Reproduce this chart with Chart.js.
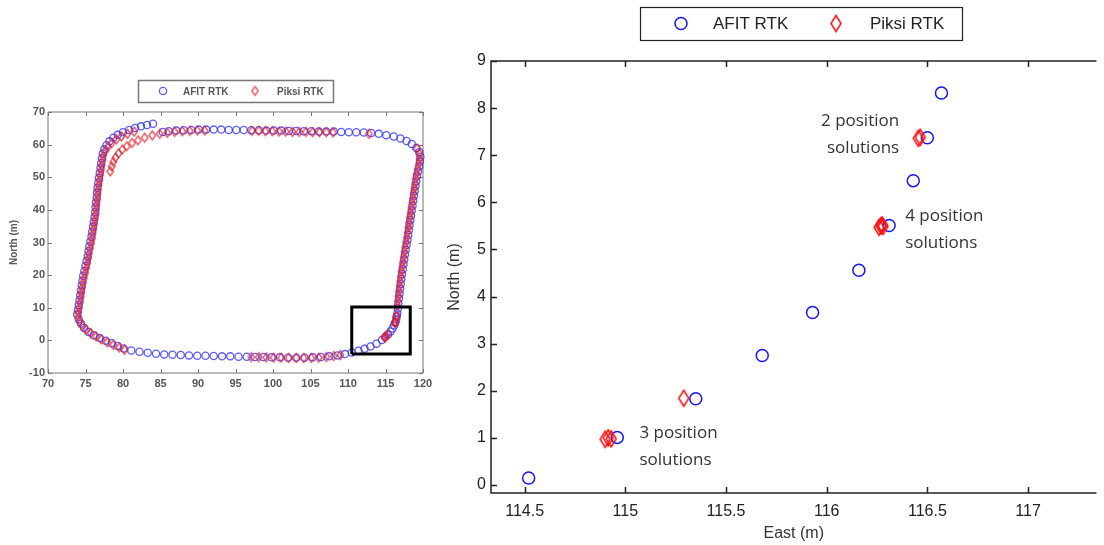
<!DOCTYPE html>
<html>
<head>
<meta charset="utf-8">
<script src="https://cdn.jsdelivr.net/npm/chart.js@4.4.1/dist/chart.umd.min.js"></script>
<style>
  html, body { margin: 0; padding: 0; background: #fff; overflow: hidden; }
  body { width: 1104px; height: 545px; position: relative; }
  #overview { position: absolute; left: 0; top: 70px; }
  #closeup { position: absolute; left: 440px; top: 0; }
</style>
</head>
<body>
<canvas id="overview" width="440" height="330" style="width:440px;height:330px"></canvas>
<canvas id="closeup" width="664" height="545" style="width:664px;height:545px"></canvas>
<script>
// ---- datos: vista general del recorrido (East, North en metros) ----
const afitTrack = [
  [84.0,66.4],[83.2,66.0],[82.4,65.6],[81.6,65.1],[80.8,64.5],[80.0,63.8],[79.3,63.0],[78.7,62.1],[78.2,61.0],[77.8,59.8],[77.5,58.6],
  [77.3,57.3],[77.2,55.8],[77.1,54.3],[77.0,52.8],[76.9,51.3],[76.8,49.8],[76.7,48.3],[76.6,46.8],[76.55,45.3],[76.5,43.8],[76.4,42.3],[76.35,40.8],[76.3,39.3],[76.2,37.8],[76.1,36.3],[76.0,34.8],[75.9,33.3],[75.8,31.8],[75.65,30.3],[75.5,28.8],[75.4,27.3],[75.3,25.8],[75.15,24.3],[75.0,22.8],[74.85,21.3],[74.7,19.8],[74.6,18.3],[74.5,16.8],[74.4,15.3],[74.3,13.8],[74.2,12.3],[74.1,10.8],[74.0,9.3],[73.9,7.9],
  [74.1,6.5],[74.4,5.1],[74.8,3.8],[75.4,2.6],[76.1,1.6],[76.9,0.7],[77.7,-0.1],[78.5,-0.9],[79.3,-1.7],[80.1,-2.5],[81.1,-3.1],
  [82.2,-3.5],[83.3,-3.8],[84.4,-4.1],[85.5,-4.3],[86.6,-4.4],[87.7,-4.5],[88.8,-4.6],[89.9,-4.7],[91.0,-4.7],[92.1,-4.8],[93.2,-4.9],[94.3,-4.9],[95.4,-5.0],[96.5,-5.0],[97.6,-5.1],[98.7,-5.1],[99.8,-5.2],[100.9,-5.2],[102.0,-5.3],[103.1,-5.3],[104.2,-5.3],[105.3,-5.2],[106.4,-5.1],[107.5,-4.9],[108.6,-4.6],[109.6,-4.2],[110.5,-3.7],[111.4,-3.2],[112.2,-2.6],[113.0,-1.9],[113.8,-1.0],
  [114.52,0.15],[114.96,1.01],[115.35,1.83],[115.68,2.75],[115.93,3.66],[116.16,4.56],[116.31,5.51],[116.43,6.46],[116.5,7.37],[116.57,8.32],
  [116.65,9.8],[116.72,11.3],[116.8,12.8],[116.87,14.3],[116.95,15.8],[117.03,17.3],[117.11,18.8],[117.2,20.3],[117.3,21.8],[117.4,23.3],[117.5,24.8],[117.6,26.3],[117.7,27.8],[117.82,29.3],[117.93,30.8],[118.03,32.3],[118.12,33.8],[118.2,35.3],[118.3,36.8],[118.4,38.3],[118.5,39.8],[118.6,41.3],[118.7,42.8],[118.8,44.3],[118.9,45.8],[119.0,47.3],[119.1,48.8],[119.2,50.3],[119.35,51.8],[119.5,53.3],[119.6,54.8],[119.65,56.3],[119.5,57.7],
  [119.1,59.0],[118.5,60.2],[117.8,61.1],[117.0,61.9],[116.1,62.5],[115.1,62.9],[114.1,63.3],
  [113.1,63.6],[112.1,63.7],[111.1,63.8],[110.1,63.8],[109.1,63.9],[108.1,64.0],[107.1,64.0],[106.1,64.0],[105.1,64.1],[104.1,64.1],[103.1,64.2],[102.1,64.2],[101.1,64.3],[100.1,64.3],[99.1,64.3],[98.1,64.4],[97.1,64.4],[96.1,64.5],[95.1,64.5],[94.1,64.5],[93.1,64.6],[92.1,64.6],[91.1,64.6],[90.1,64.6],[89.1,64.5],[88.1,64.4],[87.1,64.3],[86.1,64.1],[85.3,63.9]
];
const piksiTrack = [
  [78.3,51.8],[78.5,53.3],[78.7,54.7],[79.0,56.0],[79.4,57.3],[79.9,58.5],[80.5,59.5],[81.2,60.5],[82.0,61.3],[82.9,62.1],[83.9,62.8],[84.9,63.3],[85.9,63.6],[86.9,63.9],[87.9,64.1],[88.9,64.2],[89.9,64.3],[90.9,64.3],
  [97.2,64.2],[98.1,64.2],[99.0,64.1],[99.9,64.1],[100.8,64.0],[101.7,64.0],[102.6,63.9],[103.5,63.9],[104.4,63.9],[105.3,63.8],[106.2,63.8],[107.1,63.8],[108.0,63.7],
  [112.8,63.3],
  [119.2,58.8],[119.55,57.2],
  [119.55,55.6],[119.45,54.1],[119.3,52.6],[119.15,51.1],[119.05,49.6],[118.95,48.1],[118.85,46.6],[118.75,45.1],[118.65,43.6],[118.55,42.1],[118.45,40.6],[118.35,39.1],[118.25,37.6],[118.15,36.1],[118.05,34.6],[117.95,33.1],[117.85,31.6],[117.75,30.1],[117.62,28.6],[117.52,27.1],[117.42,25.6],[117.32,24.1],[117.22,22.6],[117.12,21.1],[117.03,19.6],[116.95,18.1],[116.88,16.6],[116.8,15.1],[116.72,13.6],[116.65,12.1],[116.58,10.6],
  [116.455,7.36],[116.465,7.38],[116.26,5.47],[116.27,5.5],[116.275,5.52],[116.28,5.49],[115.29,1.84],[114.9,0.97],[114.915,1.0],[114.93,0.98],
  [109.0,-4.5],[108.1,-4.8],[107.1,-5.1],[106.1,-5.3],[105.1,-5.4],[104.1,-5.4],[103.1,-5.4],[102.1,-5.4],[101.1,-5.3],[100.1,-5.3],[99.1,-5.2],[98.1,-5.1],[97.1,-5.1],
  [80.2,-2.9],[79.5,-2.2],[78.7,-1.4],[77.9,-0.6],[77.1,0.3],[76.4,1.2],[75.7,2.2],[75.1,3.3],[74.6,4.5],[74.2,5.8],[74.0,7.2],
  [74.05,8.6],[74.15,10.1],[74.25,11.6],[74.35,13.1],[74.45,14.6],[74.55,16.1],[74.65,17.6],[74.8,19.1],[74.95,20.6],[75.1,22.1],[75.25,23.6],[75.35,25.1],[75.45,26.6],[75.6,28.1],[75.75,29.6],[75.85,31.1],[75.95,32.6],[76.05,34.1],[76.15,35.6],[76.25,37.1],[76.35,38.6],[76.4,40.1],[76.45,41.6],[76.55,43.1],[76.6,44.6],[76.65,46.1],[76.75,47.6],[76.85,49.1],[76.95,50.6],[77.05,52.1],[77.15,53.6],[77.25,55.1],[77.35,56.6],
  [77.6,58.0],[78.0,59.3],[78.5,60.5],[79.1,61.6],[79.8,62.5],[80.6,63.3],[81.5,64.0]
];
// recuadro de la zona ampliada
const zoomBox = [[110.5,-4.2],[118.3,-4.2],[118.3,10.2],[110.5,10.2],[110.5,-4.2]];
const overviewEastTicks = [70,75,80,85,90,95,100,105,110,115,120];
const overviewNorthTicks = [-10,0,10,20,30,40,50,60,70];

// ---- datos: vista ampliada ----
const zoomAfitEast  = [114.52,114.96,115.35,115.68,115.93,116.16,116.31,116.43,116.50,116.57];
const zoomAfitNorth = [0.15,1.01,1.83,2.75,3.66,4.56,5.51,6.46,7.37,8.32];
const zoomPiksiEast  = [114.90,114.915,114.93,115.29,116.26,116.27,116.275,116.28,116.455,116.465];
const zoomPiksiNorth = [0.97,1.00,0.98,1.84,5.47,5.50,5.52,5.49,7.36,7.38];
const zoomEastTicks = [114.5,115,115.5,116,116.5,117];
const zoomEastLabels = ['114.5','115','115.5','116','116.5','117'];
const zoomNorthTicks = [0,1,2,3,4,5,6,7,8,9];
const notes = [
  { lines: ['2 position','solutions'], x: 116.36, y: 7.73, align: 'right' },
  { lines: ['4 position','solutions'], x: 116.39, y: 5.71, align: 'left' },
  { lines: ['3 position','solutions'], x: 115.07, y: 1.10, align: 'left' }
];

// rombo alto estilo MATLAB
function diamond(w, h, color, lw) {
    const c = document.createElement('canvas');
    c.width = Math.ceil(w + lw * 2) + 1;
    c.height = Math.ceil(h + lw * 2) + 1;
    const g = c.getContext('2d');
    const cx = c.width / 2, cy = c.height / 2;
    g.strokeStyle = color;
    g.lineWidth = lw;
    g.beginPath();
    g.moveTo(cx, cy - h / 2);
    g.lineTo(cx + w / 2, cy);
    g.lineTo(cx, cy + h / 2);
    g.lineTo(cx - w / 2, cy);
    g.closePath();
    g.stroke();
    return c;
}

function drawMarker(ctx, ds, x, y) {
    if (ds.pointStyle instanceof HTMLCanvasElement) {
        ctx.drawImage(ds.pointStyle, x - ds.pointStyle.width / 2, y - ds.pointStyle.height / 2);
    } else {
        ctx.save();
        ctx.strokeStyle = ds.borderColor;
        ctx.lineWidth = ds.pointBorderWidth;
        ctx.beginPath();
        ctx.arc(x, y, ds.pointRadius, 0, Math.PI * 2);
        ctx.stroke();
        ctx.restore();
    }
}

// marco con marcas hacia dentro
const framePlugin = {
    id: 'frame',
    beforeDatasetsDraw(chart, args, o) {
        const { ctx, chartArea: a, scales } = chart;
        ctx.save();
        ctx.strokeStyle = o.color;
        ctx.lineWidth = o.width;
        ctx.beginPath();
        ctx.moveTo(a.right, a.top);
        ctx.lineTo(a.left, a.top);
        ctx.lineTo(a.left, a.bottom);
        ctx.lineTo(a.right, a.bottom);
        if (o.right) ctx.lineTo(a.right, a.top);
        scales.x.ticks.forEach(t => {
            const px = Math.round(scales.x.getPixelForValue(t.value)) + 0.5;
            ctx.moveTo(px, a.bottom); ctx.lineTo(px, a.bottom - o.tick);
            ctx.moveTo(px, a.top); ctx.lineTo(px, a.top + o.tick);
        });
        scales.y.ticks.forEach(t => {
            const py = Math.round(scales.y.getPixelForValue(t.value)) + 0.5;
            ctx.moveTo(a.left, py); ctx.lineTo(a.left + o.tick, py);
            if (o.right) { ctx.moveTo(a.right, py); ctx.lineTo(a.right - o.tick, py); }
        });
        ctx.stroke();
        ctx.restore();
    }
};

// leyenda con recuadro
const boxLegend = {
    id: 'boxLegend',
    afterDraw(chart, args, o) {
        const ctx = chart.ctx;
        const [bx, by, bw, bh] = o.box;
        ctx.save();
        ctx.strokeStyle = o.border;
        ctx.lineWidth = o.borderWidth;
        ctx.strokeRect(bx + 0.5, by + 0.5, bw, bh);
        const cy = by + bh / 2;
        ctx.font = o.font;
        ctx.fillStyle = o.color;
        ctx.textBaseline = 'middle';
        ctx.textAlign = 'left';
        o.items.forEach(it => {
            const ds = chart.data.datasets[it.dataset];
            drawMarker(ctx, ds, it.markerX, cy);
            ctx.fillText(ds.label, it.textX, cy + 1);
        });
        ctx.restore();
    }
};

// textos sobre la grafica
const notesPlugin = {
    id: 'notes',
    afterDraw(chart, args, o) {
        if (!o.items) return;
        const { ctx, scales } = chart;
        ctx.save();
        ctx.font = o.font;
        ctx.fillStyle = o.color;
        ctx.textBaseline = 'middle';
        o.items.forEach(n => {
            const x = scales.x.getPixelForValue(n.x);
            const y = scales.y.getPixelForValue(n.y);
            ctx.textAlign = n.align;
            n.lines.forEach((line, i) => ctx.fillText(line, x, y + i * o.lineHeight));
        });
        ctx.restore();
    }
};

const toPoints = arr => arr.map(p => ({ x: p[0], y: p[1] }));
const zip = (xs, ys) => xs.map((x, i) => ({ x: x, y: ys[i] }));

// ---- grafica general ----
new Chart(document.getElementById('overview'), {
    type: 'scatter',
    data: {
        datasets: [
            {
                label: 'AFIT RTK',
                data: toPoints(afitTrack),
                pointStyle: 'circle',
                pointRadius: 3.6,
                pointBorderWidth: 1.3,
                borderColor: 'rgba(50,50,255,0.8)',
                backgroundColor: 'transparent',
                order: 2,
                clip: false
            },
            {
                label: 'Piksi RTK',
                data: toPoints(piksiTrack),
                pointStyle: diamond(6.5, 9, 'rgba(225,30,40,0.8)', 1.3),
                pointRadius: 4,
                borderColor: 'rgba(225,30,40,0.8)',
                backgroundColor: 'transparent',
                order: 1,
                clip: false
            },
            {
                label: 'box',
                data: toPoints(zoomBox),
                showLine: true,
                borderColor: '#000',
                borderWidth: 3,
                borderJoinStyle: 'miter',
                pointRadius: 0,
                order: 0,
                clip: false
            }
        ]
    },
    options: {
        responsive: false,
        animation: false,
        devicePixelRatio: 1,
        events: [],
        layout: { padding: { left: 8, top: 42, right: 17, bottom: 0 } },
        scales: {
            x: {
                type: 'linear', min: 70, max: 120,
                afterBuildTicks: s => { s.ticks = overviewEastTicks.map(v => ({ value: v })); },
                afterFit: s => { s.height = 27; },
                grid: { display: false, drawTicks: false },
                border: { display: false },
                ticks: { padding: 4, color: '#555', maxRotation: 0, autoSkip: false,
                         font: { family: 'Liberation Sans', size: 11, weight: 'bold' } }
            },
            y: {
                type: 'linear', min: -10, max: 70,
                afterBuildTicks: s => { s.ticks = overviewNorthTicks.map(v => ({ value: v })); },
                afterFit: s => { s.width = 40; },
                grid: { display: false, drawTicks: false },
                border: { display: false },
                title: { display: true, text: 'North (m)', color: '#555', padding: 0,
                         font: { family: 'Liberation Sans', size: 10, weight: 'bold' } },
                ticks: { padding: 3, color: '#555', autoSkip: false,
                         font: { family: 'Liberation Sans', size: 11, weight: 'bold' } }
            }
        },
        plugins: {
            legend: { display: false },
            tooltip: { enabled: false },
            frame: { color: '#777', width: 1, tick: 4, right: true },
            boxLegend: {
                box: [138, 10, 195, 22],
                border: '#777', borderWidth: 1.5,
                font: 'bold 10px "Liberation Sans"', color: '#555',
                items: [
                    { dataset: 0, markerX: 163, textX: 183 },
                    { dataset: 1, markerX: 255, textX: 277 }
                ]
            }
        }
    },
    plugins: [framePlugin, boxLegend]
});

// ---- grafica ampliada ----
new Chart(document.getElementById('closeup'), {
    type: 'scatter',
    data: {
        datasets: [
            {
                label: 'AFIT RTK',
                data: zip(zoomAfitEast, zoomAfitNorth),
                pointStyle: 'circle',
                pointRadius: 6,
                pointBorderWidth: 1.5,
                borderColor: '#1414ff',
                backgroundColor: 'transparent',
                order: 2,
                clip: false
            },
            {
                label: 'Piksi RTK',
                data: zip(zoomPiksiEast, zoomPiksiNorth),
                pointStyle: diamond(10, 16, '#ff1010', 1.5),
                pointRadius: 6,
                borderColor: '#ff1010',
                backgroundColor: 'transparent',
                order: 1,
                clip: false
            }
        ]
    },
    options: {
        responsive: false,
        animation: false,
        devicePixelRatio: 1,
        events: [],
        layout: { padding: { left: 5, top: 61, right: 0, bottom: 0 } },
        scales: {
            x: {
                type: 'linear', min: 114.333, max: 117.34,
                afterBuildTicks: s => { s.ticks = zoomEastTicks.map(v => ({ value: v })); },
                afterFit: s => { s.height = 52; },
                grid: { display: false, drawTicks: false },
                border: { display: false },
                title: { display: true, text: 'East (m)', color: '#333', padding: { top: 0, bottom: 2 },
                         font: { family: 'Liberation Sans', size: 16 } },
                ticks: { padding: 9, color: '#222', maxRotation: 0, autoSkip: false,
                         callback: (v, i) => zoomEastLabels[i],
                         font: { family: 'Liberation Sans', size: 16 } }
            },
            y: {
                type: 'linear', min: -0.17, max: 9,
                afterBuildTicks: s => { s.ticks = zoomNorthTicks.map(v => ({ value: v })); },
                afterFit: s => { s.width = 46; },
                grid: { display: false, drawTicks: false },
                border: { display: false },
                title: { display: true, text: 'North (m)', color: '#333', padding: 0,
                         font: { family: 'Liberation Sans', size: 16 } },
                ticks: { padding: 5, color: '#222', autoSkip: false,
                         font: { family: 'Liberation Sans', size: 16 } }
            }
        },
        plugins: {
            legend: { display: false },
            tooltip: { enabled: false },
            frame: { color: '#222', width: 1.5, tick: 6, right: false },
            boxLegend: {
                box: [200, 7, 322, 33],
                border: '#222', borderWidth: 1.2,
                font: '17px "Liberation Sans"', color: '#222',
                items: [
                    { dataset: 0, markerX: 241, textX: 273 },
                    { dataset: 1, markerX: 396, textX: 430 }
                ]
            },
            notes: { items: notes, font: '17px "Open Sans"', color: '#333', lineHeight: 27 }
        }
    },
    plugins: [framePlugin, boxLegend, notesPlugin]
});
</script>
</body>
</html>
